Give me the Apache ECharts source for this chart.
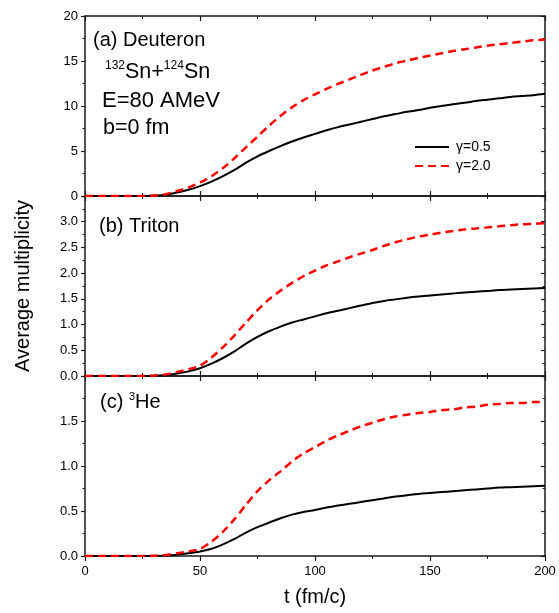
<!DOCTYPE html>
<html>
<head>
<meta charset="utf-8">
<script src="https://cdn.jsdelivr.net/npm/echarts@6/dist/echarts.min.js"></script>
<style>html,body{margin:0;padding:0;background:#fff}#c{width:559px;height:613px}</style>
</head>
<body>
<div id="c"></div>
<script>
// time (fm/c)
const tVals = [0,5,10,15,20,25,30,35,40,45,50,55,60,65,70,75,80,85,90,95,100,105,110,115,120,125,130,135,140,145,150,155,160,165,170,175,180,185,190,195,200];
// (a) Deuteron
const deuteronG05 = [0,0,0,0,0,0,0.05,0.15,0.4,0.7,1.1,1.6,2.2,2.9,3.7,4.4,5.0,5.55,6.05,6.5,6.9,7.3,7.65,7.95,8.25,8.55,8.85,9.1,9.35,9.55,9.8,10.0,10.2,10.35,10.55,10.7,10.85,11.0,11.1,11.2,11.35];
const deuteronG20 = [0,0,0,0,0,0,0.05,0.2,0.55,0.95,1.5,2.2,3.1,4.2,5.4,6.6,7.8,8.9,9.85,10.65,11.3,11.9,12.45,12.95,13.45,13.95,14.35,14.75,15.05,15.35,15.6,15.85,16.1,16.3,16.5,16.7,16.85,17.0,17.15,17.3,17.4];
// (b) Triton
const tritonG05 = [0,0,0,0,0,0,0.005,0.02,0.05,0.09,0.15,0.24,0.35,0.48,0.63,0.76,0.87,0.96,1.04,1.10,1.16,1.22,1.27,1.32,1.37,1.42,1.46,1.49,1.52,1.545,1.565,1.585,1.605,1.625,1.64,1.655,1.67,1.68,1.69,1.70,1.71];
const tritonG20 = [0,0,0,0,0,0,0.01,0.03,0.08,0.13,0.2,0.36,0.56,0.79,1.04,1.28,1.49,1.66,1.81,1.94,2.05,2.15,2.23,2.31,2.38,2.45,2.53,2.6,2.66,2.71,2.75,2.79,2.82,2.85,2.87,2.89,2.91,2.93,2.95,2.96,2.97];
// (c) 3He
const he3G05 = [0,0,0,0,0,0,0,0.005,0.015,0.03,0.05,0.08,0.13,0.19,0.26,0.32,0.37,0.42,0.46,0.49,0.51,0.54,0.56,0.58,0.60,0.62,0.64,0.66,0.675,0.69,0.70,0.71,0.72,0.73,0.74,0.75,0.76,0.765,0.77,0.775,0.78];
const he3G20 = [0,0,0,0,0,0,0.003,0.01,0.03,0.05,0.08,0.16,0.27,0.41,0.57,0.72,0.84,0.94,1.05,1.14,1.21,1.28,1.34,1.39,1.44,1.48,1.52,1.55,1.57,1.59,1.60,1.62,1.63,1.65,1.66,1.68,1.69,1.70,1.70,1.71,1.71];

const seriesNames = ['\u03b3=0.5', '\u03b3=2.0'];
const xTicks = {min: 0, max: 200, interval: 50};
const yRanges = [{min: 0, max: 20, interval: 5}, {min: 0, max: 3.5, interval: 0.5}, {min: 0, max: 2, interval: 0.5}];

const FONT = '"Liberation Sans", Arial, sans-serif';
const AX = '#1a1a1a';
const chart = echarts.init(document.getElementById('c'));

const grids = [0,1,2].map(i => ({left: 85, right: 14, top: 16 + i*180, height: 180}));

function xAx(gi, pos) {
  const isBottomMost = (gi === 2 && pos === 'bottom');
  return {
    type: 'value', gridIndex: gi, position: pos, min: xTicks.min, max: xTicks.max, interval: xTicks.interval,
    axisLine: {show: true, onZero: false, lineStyle: {color: AX, width: 1.5}},
    axisTick: {show: true, inside: !isBottomMost, length: 5, lineStyle: {color: AX, width: 1.2}},
    minorTick: {show: true, splitNumber: 2, length: 3, lineStyle: {color: AX, width: 1}},
    axisLabel: {show: isBottomMost, color: '#000', fontSize: 13, fontFamily: FONT, margin: 9},
    splitLine: {show: false},
    name: isBottomMost ? 't (fm/c)' : '', nameLocation: 'middle', nameGap: 31,
    nameTextStyle: {fontSize: 20, fontFamily: FONT, color: '#000'}
  };
}
function yAx(gi, pos) {
  const r = yRanges[gi];
  const left = pos === 'left';
  return {
    type: 'value', gridIndex: gi, position: pos, min: r.min, max: r.max, interval: r.interval,
    axisLine: {show: true, onZero: false, lineStyle: {color: AX, width: 1.5}},
    axisTick: {show: true, inside: !left, length: 4, lineStyle: {color: AX, width: 1.2}},
    minorTick: {show: true, splitNumber: 2, length: 2.5, lineStyle: {color: AX, width: 1}},
    axisLabel: {show: left, color: '#000', fontSize: 13, fontFamily: FONT, margin: 7,
      showMaxLabel: gi === 0, showMinLabel: true,
      formatter: v => gi === 0 ? String(v) : v.toFixed(1)},
    splitLine: {show: false},
    name: (left && gi === 1) ? 'Average multiplicity' : '', nameLocation: 'middle', nameGap: 52,
    nameTextStyle: {fontSize: 20, fontFamily: FONT, color: '#000'}
  };
}

const xAxes = [], yAxes = [];
[0,1,2].forEach(gi => { xAxes.push(xAx(gi, 'bottom'), xAx(gi, 'top')); yAxes.push(yAx(gi, 'left'), yAx(gi, 'right')); });

const panels = [[deuteronG05, deuteronG20], [tritonG05, tritonG20], [he3G05, he3G20]];
const series = [];
panels.forEach((pair, gi) => {
  series.push({
    name: seriesNames[0], type: 'line', xAxisIndex: gi*2, yAxisIndex: gi*2, showSymbol: false, symbol: 'none', smooth: 0.3,
    data: tVals.map((t, i) => [t, pair[0][i]]), lineStyle: {color: '#000', width: 2}, itemStyle: {color: '#000'}, z: 3
  });
  series.push({
    name: seriesNames[1], type: 'line', xAxisIndex: gi*2, yAxisIndex: gi*2, showSymbol: false, symbol: 'none', smooth: 0.3,
    data: tVals.map((t, i) => [t, pair[1][i]]), lineStyle: {color: '#ff0000', width: 2.5, type: [8, 5]}, itemStyle: {color: '#ff0000'}, z: 4
  });
});

const txt = (left, top, text, size) => ({type: 'text', left: left, top: top, style: {text: text, font: size + 'px ' + FONT, fill: '#000'}});

chart.setOption({
  animation: false,
  grid: grids,
  xAxis: xAxes,
  yAxis: yAxes,
  series: series,
  legend: {
    data: seriesNames, left: 414, top: 140, padding: 0, orient: 'vertical', itemWidth: 34, itemHeight: 14, itemGap: 5,
    itemStyle: {opacity: 0},
    textStyle: {fontSize: 14, fontFamily: FONT, color: '#000', padding: [0,0,0,2]}, selectedMode: false
  },
  graphic: [
    txt(93, 30, '(a) Deuteron', 20),
    {type: 'text', left: 105, top: 60, style: {
      text: '{s|132}{m|Sn+}{s|124}{m|Sn}', font: '21px ' + FONT, fill: '#000',
      rich: {s: {fontSize: 12, fontFamily: FONT, fill: '#000', verticalAlign: 'top', lineHeight: 24}, m: {fontSize: 21.5, fontFamily: FONT, fill: '#000', lineHeight: 24}}
    }},
    txt(102, 90, 'E=80 AMeV', 22),
    txt(103, 117, 'b=0 fm', 21.5),
    txt(99, 216, '(b) Triton', 20),
    {type: 'text', left: 100, top: 391, style: {
      text: '{m|(c) }{s|3}{m|He}', font: '20px ' + FONT, fill: '#000',
      rich: {s: {fontSize: 11, fontFamily: FONT, fill: '#000', verticalAlign: 'top', lineHeight: 22}, m: {fontSize: 20, fontFamily: FONT, fill: '#000', lineHeight: 22}}
    }}
  ]
});
</script>
</body>
</html>
